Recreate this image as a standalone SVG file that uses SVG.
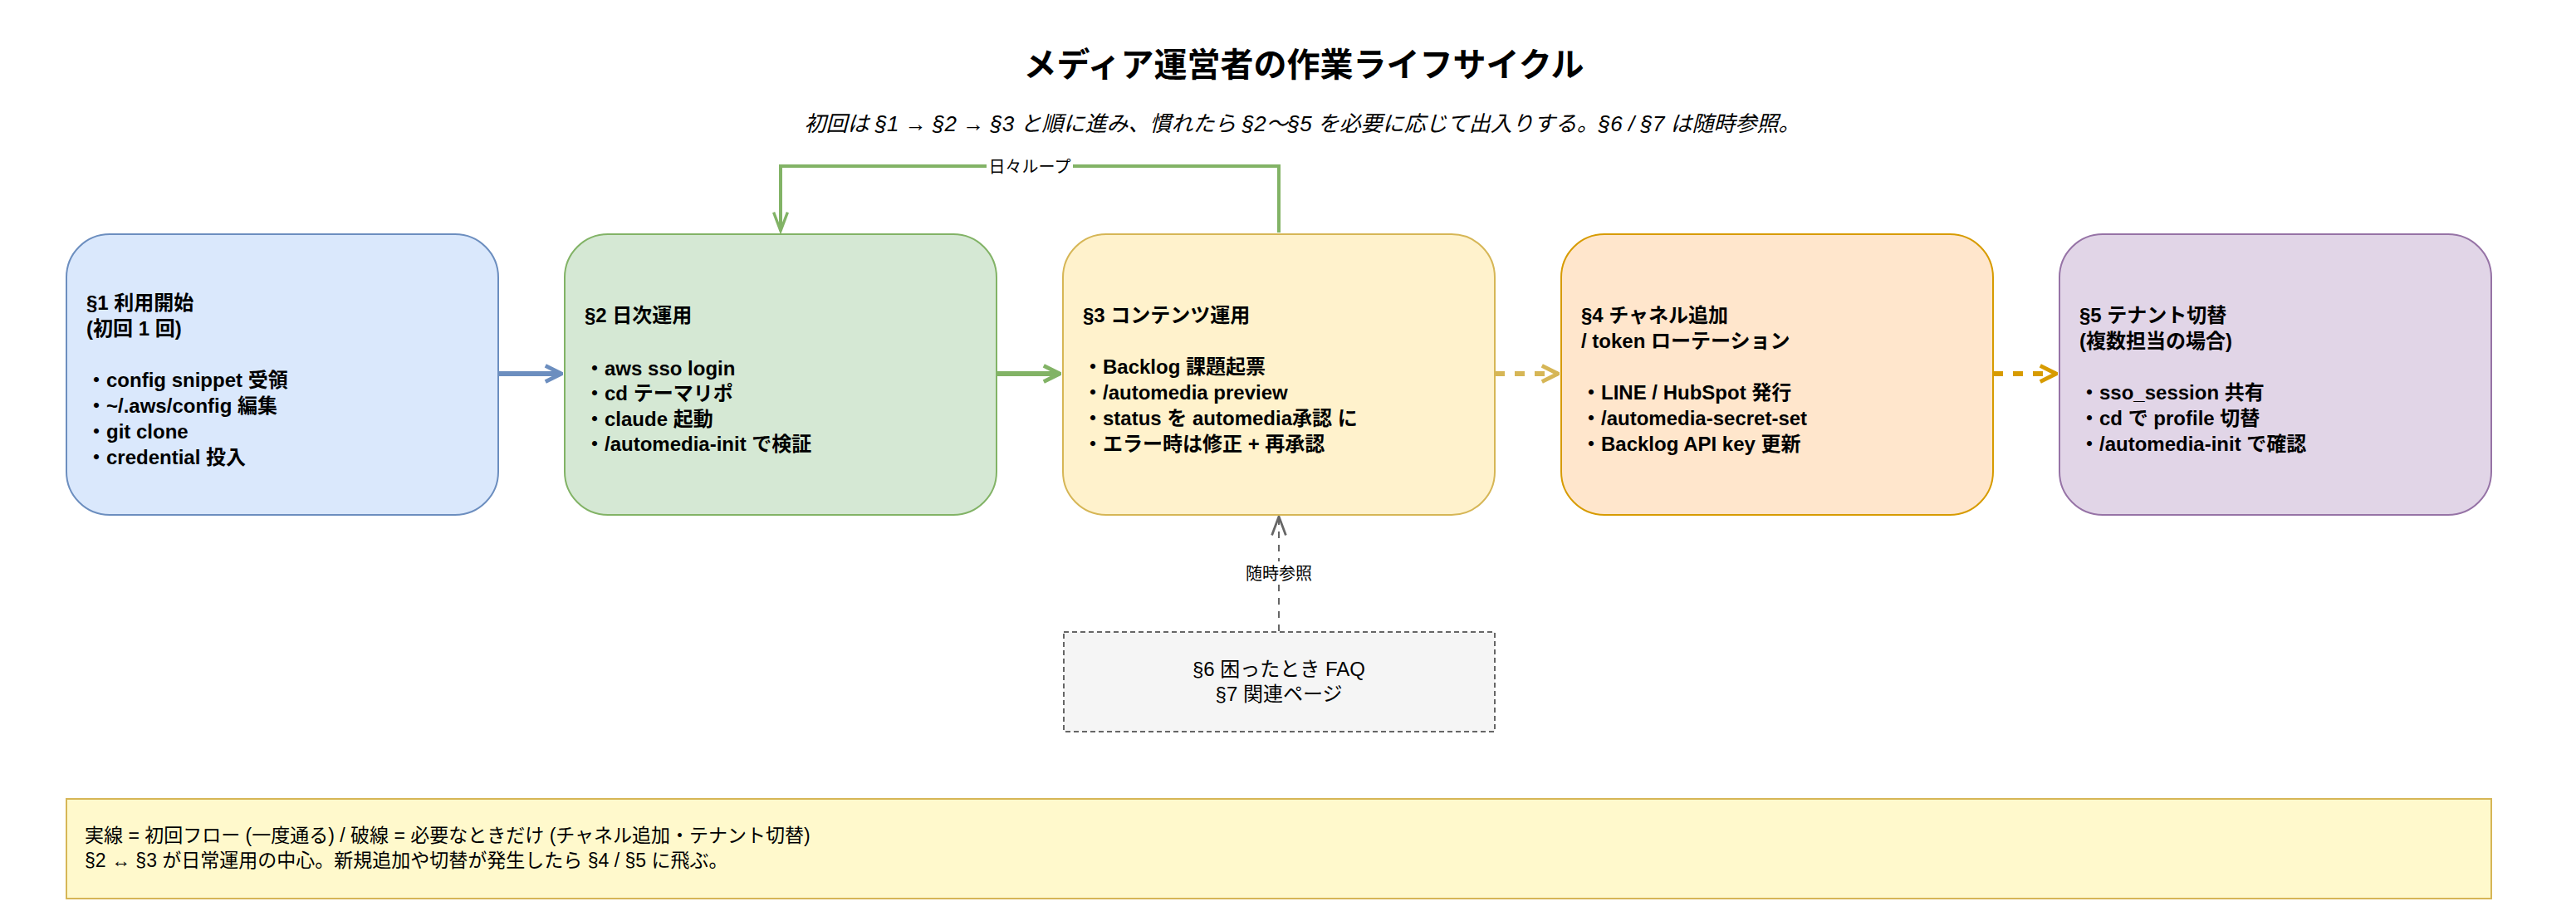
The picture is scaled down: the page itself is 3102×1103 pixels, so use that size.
<svg xmlns="http://www.w3.org/2000/svg" width="3102" height="1103" viewBox="0 0 3102 1103">
<style>
text{font-family:"Liberation Sans","Noto Sans CJK JP",sans-serif;fill:#000}
.b{font-size:24px;font-weight:bold}
.box{stroke-width:2}
</style>
<defs>
<marker id="ab" viewBox="0 0 10 10" refX="9" refY="5" markerWidth="4" markerHeight="4" orient="auto" markerUnits="strokeWidth"><path d="M1,1 L9,5 L1,9" fill="none" stroke="#6c8ebf" stroke-width="2"/></marker>
<marker id="ag" viewBox="0 0 10 10" refX="9" refY="5" markerWidth="4" markerHeight="4" orient="auto" markerUnits="strokeWidth"><path d="M1,1 L9,5 L1,9" fill="none" stroke="#82b366" stroke-width="2"/></marker>
<marker id="ay" viewBox="0 0 10 10" refX="9" refY="5" markerWidth="4" markerHeight="4" orient="auto" markerUnits="strokeWidth"><path d="M1,1 L9,5 L1,9" fill="none" stroke="#d6b656" stroke-width="2"/></marker>
<marker id="ao" viewBox="0 0 10 10" refX="9" refY="5" markerWidth="4" markerHeight="4" orient="auto" markerUnits="strokeWidth"><path d="M1,1 L9,5 L1,9" fill="none" stroke="#d79b00" stroke-width="2"/></marker>
<marker id="agl" viewBox="0 0 10 10" refX="9" refY="5" markerWidth="7" markerHeight="7" orient="auto" markerUnits="strokeWidth"><path d="M1,2 L9,5 L1,8" fill="none" stroke="#82b366" stroke-width="1.2"/></marker>
<marker id="agr" viewBox="0 0 10 10" refX="9" refY="5" markerWidth="14" markerHeight="14" orient="auto" markerUnits="strokeWidth"><path d="M1,2 L9,5 L1,8" fill="none" stroke="#666" stroke-width="1"/></marker>
</defs>

<text x="1570" y="92" font-size="40" font-weight="bold" text-anchor="middle">メディア運営者の作業ライフサイクル</text>
<text x="1568" y="158" font-size="26" font-style="italic" text-anchor="middle">初回は §1 → §2 → §3 と順に進み、慣れたら §2〜§5 を必要に応じて出入りする。§6 / §7 は随時参照。</text>

<g id="connectors" fill="none">
<path d="M1540,280 V200 H940 V278" stroke="#82b366" stroke-width="4" marker-end="url(#agl)"/>
<rect x="1188" y="188" width="104" height="26" fill="#fff"/>
<text x="1240" y="208" font-size="20" text-anchor="middle">日々ループ</text>
<path d="M600,450 H676" stroke="#6c8ebf" stroke-width="6" marker-end="url(#ab)"/>
<path d="M1200,450 H1276" stroke="#82b366" stroke-width="6" marker-end="url(#ag)"/>
<path d="M1800,450 H1876" stroke="#d6b656" stroke-width="6" stroke-dasharray="12,12" marker-end="url(#ay)"/>
<path d="M2400,450 H2476" stroke="#d79b00" stroke-width="6" stroke-dasharray="12,12" marker-end="url(#ao)"/>
<path d="M1540,760 V622" stroke="#666" stroke-width="2" stroke-dasharray="8,8" marker-end="url(#agr)"/>
<rect x="1500" y="676" width="80" height="28" fill="#fff"/>
<text x="1540" y="698" font-size="20" text-anchor="middle">随時参照</text>
</g>

<g id="n1">
<rect class="box" x="80" y="282" width="520" height="338" rx="52" fill="#dae8fc" stroke="#6c8ebf"/>
<text class="b"><tspan x="104" y="373">§1 利用開始</tspan><tspan x="104" y="404">(初回 1 回)</tspan><tspan x="104" y="466">・config snippet 受領</tspan><tspan x="104" y="497">・~/.aws/config 編集</tspan><tspan x="104" y="528">・git clone</tspan><tspan x="104" y="559">・credential 投入</tspan></text>
</g>
<g id="n2">
<rect class="box" x="680" y="282" width="520" height="338" rx="52" fill="#d5e8d4" stroke="#82b366"/>
<text class="b"><tspan x="704" y="388">§2 日次運用</tspan><tspan x="704" y="452">・aws sso login</tspan><tspan x="704" y="482">・cd テーマリポ</tspan><tspan x="704" y="513">・claude 起動</tspan><tspan x="704" y="543">・/automedia-init で検証</tspan></text>
</g>
<g id="n3">
<rect class="box" x="1280" y="282" width="520" height="338" rx="52" fill="#fff2cc" stroke="#d6b656"/>
<text class="b"><tspan x="1304" y="388">§3 コンテンツ運用</tspan><tspan x="1304" y="450">・Backlog 課題起票</tspan><tspan x="1304" y="481">・/automedia preview</tspan><tspan x="1304" y="512">・status を automedia承認 に</tspan><tspan x="1304" y="543">・エラー時は修正 + 再承認</tspan></text>
</g>
<g id="n4">
<rect class="box" x="1880" y="282" width="520" height="338" rx="52" fill="#ffe6cc" stroke="#d79b00"/>
<text class="b"><tspan x="1904" y="388">§4 チャネル追加</tspan><tspan x="1904" y="419">/ token ローテーション</tspan><tspan x="1904" y="481">・LINE / HubSpot 発行</tspan><tspan x="1904" y="512">・/automedia-secret-set</tspan><tspan x="1904" y="543">・Backlog API key 更新</tspan></text>
</g>
<g id="n5">
<rect class="box" x="2480" y="282" width="520" height="338" rx="52" fill="#e1d5e7" stroke="#9673a6"/>
<text class="b"><tspan x="2504" y="388">§5 テナント切替</tspan><tspan x="2504" y="419">(複数担当の場合)</tspan><tspan x="2504" y="481">・sso_session 共有</tspan><tspan x="2504" y="512">・cd で profile 切替</tspan><tspan x="2504" y="543">・/automedia-init で確認</tspan></text>
</g>
<g id="n6">
<rect x="1281" y="761" width="519" height="120" fill="#f5f5f5" stroke="#666" stroke-width="2" stroke-dasharray="6,4"/>
<text font-size="24" text-anchor="middle"><tspan x="1540" y="814">§6 困ったとき FAQ</tspan><tspan x="1540" y="844">§7 関連ページ</tspan></text>
</g>
<g id="legend">
<rect x="80" y="962" width="2920" height="120" fill="#fff9cc" stroke="#d6b656" stroke-width="2"/>
<text font-size="23"><tspan x="102" y="1014">実線 = 初回フロー (一度通る) / 破線 = 必要なときだけ (チャネル追加・テナント切替)</tspan><tspan x="102" y="1044">§2 ↔ §3 が日常運用の中心。新規追加や切替が発生したら §4 / §5 に飛ぶ。</tspan></text>
</g>
</svg>
